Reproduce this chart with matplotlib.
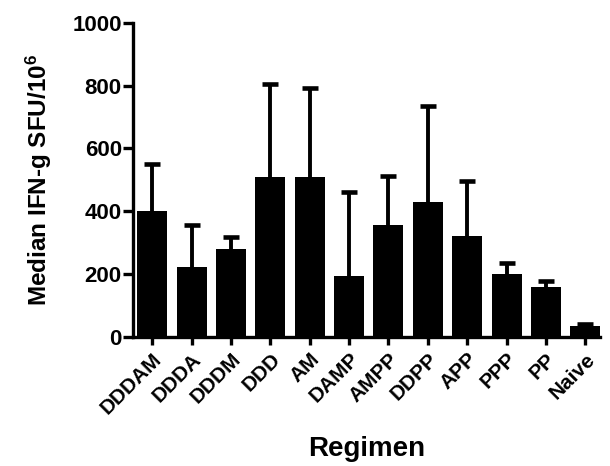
import numpy as np
import matplotlib
matplotlib.use("Agg")
import matplotlib.pyplot as plt

plt.rcParams['font.family'] = ['Liberation Sans', 'DejaVu Sans']
plt.rcParams['font.weight'] = 'bold'
plt.rcParams['mathtext.fontset'] = 'custom'
plt.rcParams['mathtext.rm'] = 'Liberation Sans:bold'
plt.rcParams['mathtext.bf'] = 'Liberation Sans:bold'
plt.rcParams['mathtext.default'] = 'bf'

# data
regimens = ['DDDAM', 'DDDA', 'DDDM', 'DDD', 'AM', 'DAMP', 'AMPP',
            'DDPP', 'APP', 'PPP', 'PP', 'Naive']
medians = [401, 222, 281, 510, 510, 195, 357, 430, 320, 201, 159, 36]
upper = [550, 355, 318, 806, 791, 460, 511, 735, 498, 234, 179, 41]

x = np.arange(len(regimens))
err_up = np.array(upper) - np.array(medians)
err = [np.zeros(len(regimens)), err_up]

fig = plt.figure(figsize=(6.1, 4.66), dpi=100)
ax = fig.add_axes([0.218, 0.277, 0.766, 0.674])

ax.bar(x, medians, width=0.76, color='black', zorder=2)
eb = ax.errorbar(x, medians, yerr=err, fmt='none', ecolor='black',
                 elinewidth=2.8, capsize=5.8, capthick=3.3, zorder=1)
# only the upper caps
eb[1][0].set_visible(False)
for cl in eb[1]:
    cl.set_solid_capstyle('round')

ax.set_ylim(0, 1000)
ax.set_xlim(-0.49, 11.38)
ax.set_yticks([0, 200, 400, 600, 800, 1000])
ax.set_xticks(x)
ax.set_xticklabels(regimens, rotation=45, ha='right', rotation_mode='anchor',
                   fontsize=15, fontweight='bold')
ax.tick_params(axis='y', labelsize=16, width=2.4, length=7, pad=1)
ax.tick_params(axis='x', width=2.4, length=6, pad=3)
for lab in ax.get_yticklabels():
    lab.set_fontweight('bold')

for side in ['top', 'right']:
    ax.spines[side].set_visible(False)
for side in ['left', 'bottom']:
    ax.spines[side].set_linewidth(2.4)

ax.set_ylabel('Median IFN-g SFU/10$^6$', fontsize=17.5, fontweight='bold', labelpad=13)
ax.set_xlabel('Regimen', fontsize=20, fontweight='bold', labelpad=13)

fig.savefig('out.png', dpi=100)
